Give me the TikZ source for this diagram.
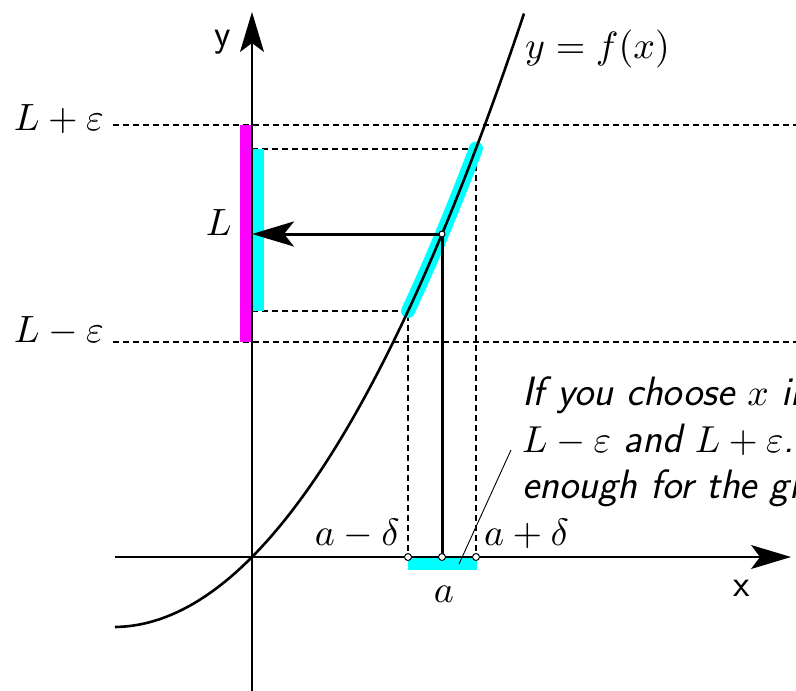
\documentclass[tikz,border=0pt]{standalone}
\DeclareFontFamily{OML}{cmm}{\skewchar\font'177}
\DeclareFontShape{OML}{cmm}{m}{it}{<->cmmi10}{}
\DeclareFontFamily{OMS}{cmsy}{\skewchar\font'60}
\DeclareFontShape{OMS}{cmsy}{m}{n}{<->cmsy10}{}
\DeclareFontFamily{OT1}{cmr}{\hyphenchar\font45 }
\DeclareFontShape{OT1}{cmr}{m}{n}{<->cmr10}{}
\usetikzlibrary{arrows.meta}
\definecolor{cy}{RGB}{0,255,255}
\definecolor{mg}{RGB}{255,0,255}
\newcommand{\tm}[1]{{\fontsize{37.5}{46}\selectfont$#1$}}
\begin{document}
\begin{tikzpicture}[x=1pt,y=-1pt,
  lbl/.style={inner sep=0pt,font=\fontsize{38}{46}\selectfont},
  axlbl/.style={inner sep=0pt,font=\fontsize{38}{46}\selectfont\sffamily},
  txt/.style={inner sep=0pt,font=\fontsize{41}{46}\selectfont\sffamily\itshape},
  axis/.style={line width=1.4pt,draw=black},
  bigtip/.style={-{Stealth[length=40pt,width=24pt,inset=9pt]}},
  guide/.style={dashed,line width=1.3pt,dash pattern=on 6pt off 4pt},
  thick line/.style={line width=3pt},
  dot/.style={circle,draw=black,fill=white,line width=1pt,inner sep=0pt,minimum size=7pt}]
\useasboundingbox (0,0) rectangle (796,691);
\begin{scope}
\clip (0,0) rectangle (796,691);
% key coordinates
\coordinate (O) at (252,557);
\coordinate (A) at (442,557);
\coordinate (Am) at (408,557);
\coordinate (Ap) at (476,557);
\coordinate (FA) at (442,234);
\coordinate (FAm) at (408,311);
\coordinate (FAp) at (476,149);
\coordinate (YL) at (252,234);
\coordinate (YLm) at (252,311);
\coordinate (YLp) at (252,149);
\coordinate (EpsTopL) at (113,125);
\coordinate (EpsTopR) at (796,125);
\coordinate (EpsBotL) at (113,342);
\coordinate (EpsBotR) at (796,342);
\coordinate (XS) at (115,557);
\coordinate (XE) at (791,557);
\coordinate (YS) at (252,691);
\coordinate (YE) at (252,12);
\coordinate (LeadA) at (459,564);
\coordinate (LeadB) at (511,450);
% epsilon dashed lines
\draw[guide] (EpsTopL) -- (EpsTopR);
\draw[guide] (EpsBotL) -- (EpsBotR);
% delta dashed lines
\draw[guide] (YLp) -- (FAp) -- (Ap);
\draw[guide] (YLm) -- (FAm) -- (Am);
% bands
\fill[mg] (240,125) rectangle (252,342);
\fill[cy] (252,149) rectangle (264,311);
\fill[cy] (408,557) rectangle (477,570);
\draw[cy,line width=14pt,line cap=round]
  plot[domain=156:224,samples=30] ({252+\x},{557-(1.009*\x+(0.0603*\x)*(0.0603*\x))});
% axes
\draw[axis,bigtip] (XS) -- (XE);
\draw[axis,bigtip] (YS) -- (YE);
% curve
\draw[line width=2.6pt]
  plot[domain=-137:272,samples=120] ({252+\x},{557-(1.009*\x+(0.0603*\x)*(0.0603*\x))});
% solid lines
\draw[thick line] (A) -- (FA);
\draw[thick line,-{Stealth[length=42pt,width=25pt,inset=10pt]}] (FA) -- (YL);
% leader
\draw[line width=0.9pt] (LeadA) -- (LeadB);
% dots
\node[dot] (dA) at (A) {};
\node[dot] (dAm) at (Am) {};
\node[dot] (dAp) at (Ap) {};
\node[dot,minimum size=6pt] (dFA) at (FA) {};
% labels
\node[lbl,anchor=base east] (lep) at (104,130) {$L+\varepsilon$};
\node[lbl,anchor=base east] (lem) at (104,342) {$L-\varepsilon$};
\node[lbl,anchor=base east] (lL) at (232,235) {$L$};
\node[lbl,anchor=base east] (lam) at (400,545) {$a-\delta$};
\node[lbl,anchor=base west] (lap) at (484,545) {$a+\delta$};
\node[lbl,anchor=base] (la) at (444,602) {$a$};
\node[lbl,anchor=base west] (lf) at (525,58) {$y=f(x)$};
\node[axlbl,anchor=base] (ly) at (223,46) {y};
\node[axlbl,anchor=base] (lx) at (742,596) {x};
\node[txt,anchor=base west] (t1) at (522,405) {If you choose \tm{x} in};
\node[txt,anchor=base west] (t2) at (522,452) {\tm{L-\varepsilon} and \tm{L+\varepsilon}.};
\node[txt,anchor=base west] (t3) at (522,498) {enough for the gi};
\end{scope}
\end{tikzpicture}
\end{document}
